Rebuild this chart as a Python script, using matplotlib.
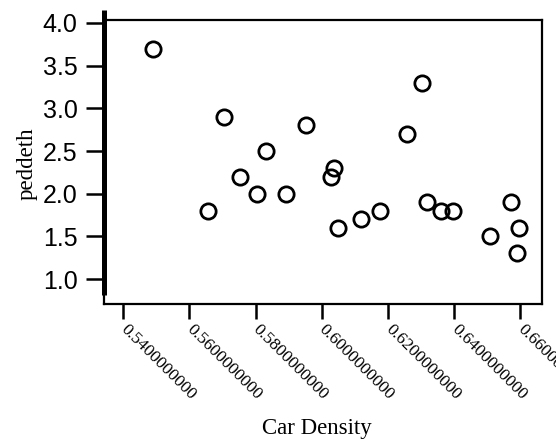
import matplotlib
matplotlib.use("Agg")
import matplotlib.pyplot as plt
from matplotlib.lines import Line2D

car_density = [0.5489, 0.5706, 0.5953, 0.5832, 0.5753, 0.5804, 0.5892, 0.5657,
               0.6037, 0.6028, 0.6050, 0.6118, 0.6177, 0.6303, 0.6259, 0.6318,
               0.6360, 0.6396, 0.6509, 0.6572, 0.6597, 0.6590]
peddeth = [3.7, 2.9, 2.8, 2.5, 2.2, 2.0, 2.0, 1.8,
           2.3, 2.2, 1.6, 1.7, 1.8, 3.3, 2.7, 1.9,
           1.8, 1.8, 1.5, 1.9, 1.6, 1.3]
x_ticks = [0.54, 0.56, 0.58, 0.60, 0.62, 0.64, 0.66]
x_tick_labels = ["0.5400000000", "0.5600000000", "0.5800000000", "0.6000000000",
                 "0.6200000000", "0.6400000000", "0.6600000000"]
y_ticks = [1.0, 1.5, 2.0, 2.5, 3.0, 3.5, 4.0]
y_tick_labels = ["1.0", "1.5", "2.0", "2.5", "3.0", "3.5", "4.0"]

fig = plt.figure(figsize=(5.56, 4.45), dpi=100)
ax = fig.add_axes([104/556, 1 - 304/445, 438/556, 284/445])

ax.plot(car_density, peddeth, linestyle="none", marker="o", markersize=11,
        markerfacecolor="none", markeredgecolor="black", markeredgewidth=2.0)

ax.set_xlim(0.53416, 0.66666)
ax.set_ylim(0.708, 4.035)

for s in ax.spines.values():
    s.set_linewidth(1.6)
    s.set_color("black")

# thick left axis line (offset upward like the reference)
ax.add_line(Line2D([0, 0], [0.0317, 1.035], transform=ax.transAxes,
                   color="black", linewidth=3.6, clip_on=False,
                   solid_capstyle="butt"))

ax.set_yticks(y_ticks)
ax.set_yticklabels(y_tick_labels, fontfamily="Liberation Sans", fontsize=18)
ax.tick_params(axis="y", direction="out", length=13, width=1.8, pad=6)

ax.set_xticks(x_ticks)
ax.set_xticklabels(x_tick_labels, fontfamily="Liberation Serif", fontsize=12.5,
                   rotation=-45, ha="left", va="center",
                   rotation_mode="anchor")
ax.tick_params(axis="x", direction="out", length=10.5, width=1.8, pad=6)

ax.set_xlabel("Car Density", fontfamily="Liberation Serif", fontsize=16.5)
ax.xaxis.set_label_coords(0.486, -0.40)
ax.set_ylabel("peddeth", fontfamily="Liberation Serif", fontsize=16.5)
ax.yaxis.set_label_coords(-0.151, 0.493)

fig.savefig("out.png", dpi=100)
